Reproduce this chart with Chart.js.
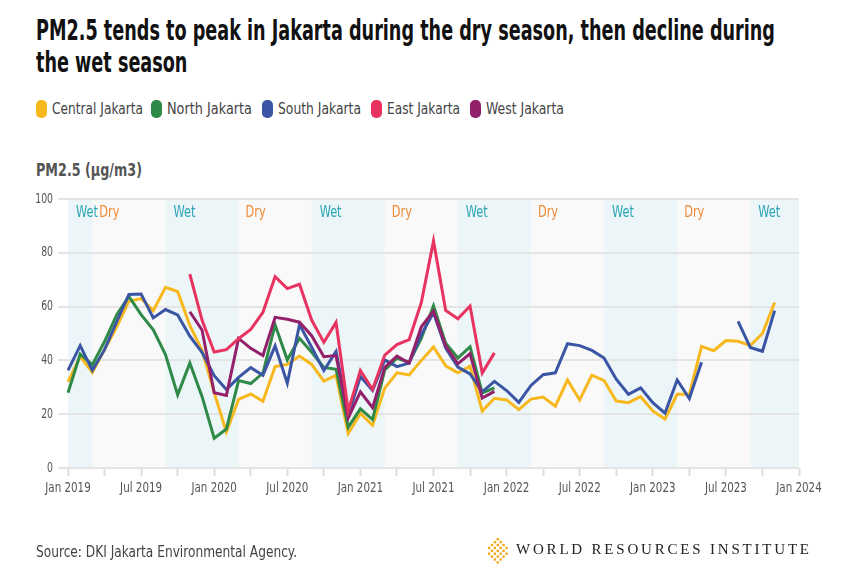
<!DOCTYPE html>
<html>
<head>
<meta charset="utf-8">
<script src="https://cdn.jsdelivr.net/npm/chart.js@4.4.0/dist/chart.umd.min.js"></script>
<style>
  html, body { margin: 0; padding: 0; background: #fff; }
  body { width: 859px; height: 579px; position: relative; overflow: hidden;
         font-family: "DejaVu Sans Condensed", "Liberation Sans", sans-serif; }
  .fit { display: inline-block; transform-origin: left center; white-space: nowrap; }
  #title { position: absolute; left: 36px; top: 14px; font-weight: bold; font-size: 29px;
           line-height: 32px; color: #111; white-space: nowrap; }
  #title .fit { display: block; }
  #legend { position: absolute; left: 0; top: 99px; height: 20px; width: 859px; font-size: 15px; color: #444; }
  #legend .item { position: absolute; top: 0; white-space: nowrap; }
  #legend .sw { position: absolute; left: 0; top: 1px; width: 11px; height: 18px; border-radius: 5px; }
  #legend .lbl { position: absolute; left: 16px; top: 1px; line-height: 18px; }
  #ytitle { position: absolute; left: 36px; top: 160px; font-size: 17px; font-weight: bold; color: #555; }
  #source { position: absolute; left: 36px; top: 543px; font-size: 15px; color: #444; }
  #logo { position: absolute; left: 484px; top: 537px; }
  #logotext { position: absolute; left: 516px; top: 541px; font-family: "Liberation Serif", serif;
              font-size: 15px; letter-spacing: 2.8px; color: #222; white-space: nowrap; }
  #wrap { position: absolute; left: 0; top: 0; width: 859px; height: 579px; }
</style>
</head>
<body>
<div id="title"><span class="fit" id="t1">PM2.5 tends to peak in Jakarta during the dry season, then decline during</span><span class="fit" id="t2">the wet season</span></div>
<div id="legend"></div>
<div id="ytitle"><span class="fit" id="yt">PM2.5 (µg/m3)</span></div>
<div id="wrap"><canvas id="chart" width="859" height="579"></canvas></div>
<div id="source"><span class="fit" id="src">Source: DKI Jakarta Environmental Agency.</span></div>
<svg id="logo" width="26" height="30" viewBox="0 0 26 30"></svg>
<div id="logotext">WORLD RESOURCES INSTITUTE</div>
<script>
// monthly categories, Jan 2019 .. Jan 2024
const monthNames = ['Jan','Feb','Mar','Apr','May','Jun','Jul','Aug','Sep','Oct','Nov','Dec'];
const years = [2019, 2020, 2021, 2022, 2023, 2024];
const months = [];
years.forEach(y => monthNames.forEach(m => { if (months.length < 61) months.push(m + ' ' + y); }));

const centralJakarta = [32, 41.5, 35.5, 44, 52.5, 62, 63, 58.5, 67.2, 65.6, 53, 43.8,
  28, 13.4, 25.5, 27.5, 24.8, 37.7, 38.5, 41.6, 38.5, 32.3, 34.4, 12.8,
  20.3, 15.9, 29.7, 35.4, 34.6, 40, 45, 38, 35.4, 37.8, 21.2, 25.9,
  25.3, 21.7, 25.6, 26.4, 23, 32.7, 25.3, 34.5, 32.5, 24.9, 24.3, 26.5,
  21.2, 18.2, 27.4, 27.4, 45.2, 43.6, 47.4, 47.1, 45.5, 50, 61.5, null];
const northJakarta = [28, 42.3, 38.4, 47, 57, 63.8, 57, 51.4, 42.2, 27.2, 39, 26.6,
  11.1, 14.5, 32.5, 31.4, 35.3, 53.2, 40.2, 48.2, 43, 37.4, 36.7, 15.2,
  22, 18, 36.5, 40.8, 39.3, 48.2, 60.3, 46.4, 40.9, 45.1, 27.9, 29.8];
const southJakarta = [36.3, 45.5, 36.3, 44, 54.4, 64.5, 64.7, 55.8, 58.9, 56.9, 49, 43,
  34.3, 29.2, 33.7, 37.3, 34.5, 45.4, 31.5, 53.3, 44.9, 36.2, 43.3, 19.5,
  34, 28.8, 40.2, 37.7, 39, 49.7, 57.7, 44.6, 37.5, 35, 28.3, 32.2,
  28.8, 24.4, 30.7, 34.7, 35.4, 46.2, 45.5, 43.7, 40.9, 33, 27.4, 29.8,
  24.3, 20.4, 32.7, 25.8, 39.3, null, null, 54.5, 44.8, 43.4, 58.5, null];
const eastJakarta = [null, null, null, null, null, null, null, null, null, null, 72.1, 55,
  43.1, 44, 48.1, 51.5, 57.9, 71.1, 66.7, 68.3, 55, 46.7, 54.1, 21.3,
  36.2, 29.2, 42, 45.9, 47.7, 61.5, 84.4, 58.6, 55.5, 60.2, 35.3, 42.8];
const westJakarta = [null, null, null, null, null, null, null, null, null, null, 58.1, 51.3,
  28, 27, 48.2, 44.5, 41.8, 56, 55.3, 54.2, 49.2, 41.4, 41.8, 18.6,
  28.3, 22.4, 37.4, 41.6, 39, 52.5, 58.3, 45.4, 38.7, 42.5, 26, 28.5];

// wet season bands (month index start/end)
const wetStart = [0, 8, 20, 32, 44, 56];
const wetEnd = [2, 14, 26, 38, 50, 60];

const seriesNames = ['Central Jakarta', 'North Jakarta', 'South Jakarta', 'East Jakarta', 'West Jakarta'];
const seriesColors = ['#f7b81d', '#2f8a48', '#3a55a4', '#e8325f', '#93206b'];
const seriesData = [centralJakarta, northJakarta, southJakarta, eastJakarta, westJakarta];
const drawOrder = [5, 4, 3, 1, 2];

// html legend, placed like the reference
const legendX = [36, 151, 262, 371, 470];
const legendW = [91, 85, 83, 73, 78];
const legend = document.getElementById('legend');
seriesNames.forEach((n, i) => {
  const it = document.createElement('span');
  it.className = 'item';
  it.style.left = legendX[i] + 'px';
  it.innerHTML = '<span class="sw" style="background:' + seriesColors[i] + '"></span>' +
    '<span class="lbl"><span class="fit" data-w="' + legendW[i] + '">' + n + '</span></span>';
  legend.appendChild(it);
});

// logo mark: small diamond lattice
const logo = document.getElementById('logo');
let sq = '';
for (let r = 0; r < 10; r++) {
  for (let c = 0; c < 9; c++) {
    const cx = c * 2.9 + 1, cy = r * 2.9 + 1;
    const d = Math.abs(cx - 12.6) / 12.6 + Math.abs(cy - 14) / 14;
    if (d < 1 && (r + c) % 2 === 0) sq += '<rect x="' + cx + '" y="' + cy + '" width="2.4" height="2.4" fill="#f4a81c"/>';
  }
}
logo.innerHTML = sq;

const FONT = '"DejaVu Sans Condensed", "Liberation Sans", sans-serif';

function squeezedText(ctx, text, px, py, align, sx) {
  ctx.save();
  ctx.translate(px, py);
  ctx.scale(sx, 1);
  ctx.textAlign = align;
  ctx.textBaseline = 'middle';
  ctx.fillText(text, 0, 0);
  ctx.restore();
}

const seasonBands = {
  id: 'seasonBands',
  beforeDraw(chart) {
    const { ctx, chartArea: a, scales: { x } } = chart;
    ctx.save();
    ctx.fillStyle = '#f9f9f9';
    ctx.fillRect(a.left, a.top, a.right - a.left, a.bottom - a.top);
    ctx.fillStyle = '#ecf5f8';
    wetStart.forEach((s, i) => {
      const x0 = x.getPixelForValue(s), x1 = x.getPixelForValue(wetEnd[i]);
      ctx.fillRect(x0, a.top, x1 - x0, a.bottom - a.top);
    });
    ctx.font = '15px ' + FONT;
    wetStart.forEach((s, i) => {
      ctx.fillStyle = '#2aa5b4';
      squeezedText(ctx, 'Wet', x.getPixelForValue(s) + 8, a.top + 14, 'left', 0.84);
      if (wetEnd[i] < 60) {
        ctx.fillStyle = '#ee8a35';
        squeezedText(ctx, 'Dry', x.getPixelForValue(wetEnd[i]) + 7, a.top + 14, 'left', 0.84);
      }
    });
    ctx.restore();
  },
  // condensed tick labels, positioned by the chart's own scales
  afterDraw(chart) {
    const { ctx, scales: { x, y } } = chart;
    ctx.save();
    ctx.font = '14px ' + FONT;
    ctx.fillStyle = '#555';
    y.ticks.forEach((t, i) => squeezedText(ctx, String(t.value), y.right - 15, y.getPixelForTick(i), 'right', 0.74));
    x.ticks.forEach((t, i) => {
      if (i % 6 === 0) squeezedText(ctx, months[i], x.getPixelForTick(i), x.top + 20, 'center', 0.82);
    });
    ctx.restore();
  }
};

new Chart(document.getElementById('chart'), {
  type: 'line',
  data: {
    labels: months,
    datasets: seriesData.map((d, i) => ({
      label: seriesNames[i],
      data: d,
      borderColor: seriesColors[i],
      backgroundColor: seriesColors[i],
      borderWidth: 3,
      pointRadius: 0,
      tension: 0,
      fill: false,
      order: drawOrder[i]
    }))
  },
  options: {
    responsive: false,
    animation: false,
    layout: { padding: { left: 20, right: 60, top: 199, bottom: 81 } },
    plugins: { legend: { display: false }, tooltip: { enabled: false } },
    scales: {
      x: {
        type: 'category',
        offset: false,
        border: { display: false },
        grid: {
          drawOnChartArea: false,
          tickLength: 8,
          tickWidth: 2,
          tickColor: c => (c.index % 3 === 0 ? '#dedede' : 'rgba(0,0,0,0)')
        },
        ticks: { autoSkip: false, maxRotation: 0, color: 'rgba(0,0,0,0)', callback: () => '' },
        afterFit: s => { s.height = 30; }
      },
      y: {
        min: 0,
        max: 100,
        border: { display: false },
        grid: { color: '#e4e4e4', lineWidth: 2, tickLength: 10 },
        ticks: { stepSize: 20, color: 'rgba(0,0,0,0)', callback: () => '' },
        afterFit: s => { s.width = 48; }
      }
    }
  },
  plugins: [seasonBands]
});

// squeeze html text to the reference widths
function fitTo(el, w) {
  el.style.transform = 'scaleX(' + (w / el.getBoundingClientRect().width) + ')';
}
const t1 = document.getElementById('t1'), t2 = document.getElementById('t2');
const k = 739 / t1.getBoundingClientRect().width;
t1.style.transform = 'scaleX(' + k + ')';
t2.style.transform = 'scaleX(' + k + ')';
fitTo(document.getElementById('yt'), 106);
fitTo(document.getElementById('src'), 261);
document.querySelectorAll('#legend .fit').forEach(el => fitTo(el, +el.dataset.w));
</script>
</body>
</html>
